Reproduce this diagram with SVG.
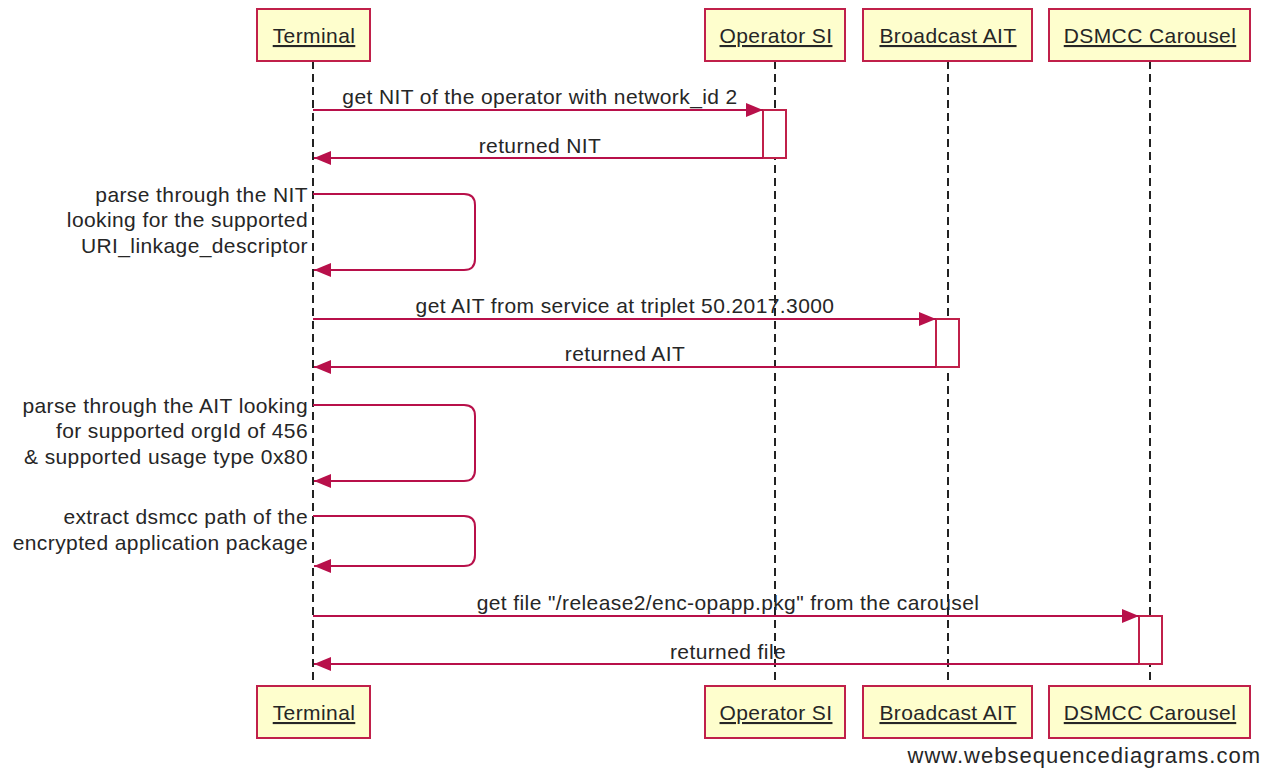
<svg xmlns="http://www.w3.org/2000/svg" width="1273" height="769" viewBox="0 0 1273 769">
<style>
  .box { fill: #fefecd; stroke: #c0204a; stroke-width: 2; }
  .act { fill: #ffffff; stroke: #c0204a; stroke-width: 2; }
  .life { stroke: #222222; stroke-width: 2; stroke-dasharray: 8 5; fill: none; }
  .msg { stroke: #b8104a; stroke-width: 2; fill: none; }
  .t { font-family: "Liberation Sans", Arial, sans-serif; font-size: 21px; letter-spacing: 0.4px; fill: #262626; }
  .c { text-anchor: middle; }
  .r { text-anchor: end; }
  .u { text-decoration: underline; }
  .wm { font-size: 22px; letter-spacing: 1px; }
</style>
<defs>
  <marker id="ah" markerUnits="userSpaceOnUse" markerWidth="18" markerHeight="14" refX="17" refY="7" orient="auto">
    <path d="M0,0 L17,7 L0,14 Z" fill="#b8104a"/>
  </marker>
</defs>
<rect width="1273" height="769" fill="#ffffff"/>
<g id="lifelines">
  <line class="life" x1="313" y1="61" x2="313" y2="686"/>
  <line class="life" x1="775" y1="61" x2="775" y2="686"/>
  <line class="life" x1="948" y1="61" x2="948" y2="686"/>
  <line class="life" x1="1150" y1="61" x2="1150" y2="686"/>
</g>
<g id="node-terminal">
  <rect class="box" x="257" y="9" width="113" height="52"/>
  <text class="t c u" x="314" y="43">Terminal</text>
  <rect class="box" x="257" y="686" width="113" height="52"/>
  <text class="t c u" x="314" y="720">Terminal</text>
</g>
<g id="node-operator">
  <rect class="box" x="705" y="9" width="140" height="52"/>
  <text class="t c u" x="776" y="43">Operator SI</text>
  <rect class="box" x="705" y="686" width="140" height="52"/>
  <text class="t c u" x="776" y="720">Operator SI</text>
</g>
<g id="node-broadcast">
  <rect class="box" x="863" y="9" width="169" height="52"/>
  <text class="t c u" x="948" y="43">Broadcast AIT</text>
  <rect class="box" x="863" y="686" width="169" height="52"/>
  <text class="t c u" x="948" y="720">Broadcast AIT</text>
</g>
<g id="node-dsmcc">
  <rect class="box" x="1049" y="9" width="201" height="52"/>
  <text class="t c u" x="1150" y="43">DSMCC Carousel</text>
  <rect class="box" x="1049" y="686" width="201" height="52"/>
  <text class="t c u" x="1150" y="720">DSMCC Carousel</text>
</g>
<g id="activations">
  <rect class="act" x="763" y="110" width="23" height="48"/>
  <rect class="act" x="936" y="319" width="23" height="48"/>
  <rect class="act" x="1139" y="616" width="23" height="48"/>
</g>
<g id="connectors">
  <line class="msg" x1="313" y1="110" x2="763" y2="110" marker-end="url(#ah)"/>
  <line class="msg" x1="763" y1="158" x2="314" y2="158" marker-end="url(#ah)"/>
  <path class="msg" d="M313,194 H464 Q475,194 475,205 V259 Q475,270 464,270 H314" marker-end="url(#ah)"/>
  <line class="msg" x1="313" y1="319" x2="936" y2="319" marker-end="url(#ah)"/>
  <line class="msg" x1="936" y1="367" x2="314" y2="367" marker-end="url(#ah)"/>
  <path class="msg" d="M313,405 H464 Q475,405 475,416 V470 Q475,481 464,481 H314" marker-end="url(#ah)"/>
  <path class="msg" d="M313,516 H464 Q475,516 475,527 V555 Q475,566 464,566 H314" marker-end="url(#ah)"/>
  <line class="msg" x1="313" y1="616" x2="1139" y2="616" marker-end="url(#ah)"/>
  <line class="msg" x1="1139" y1="664" x2="314" y2="664" marker-end="url(#ah)"/>
</g>
<g id="labels">
  <text class="t c" x="540" y="104">get NIT of the operator with network_id 2</text>
  <text class="t c" x="540" y="153">returned NIT</text>
  <text class="t r" x="308" y="202">parse through the NIT</text>
  <text class="t r" x="308" y="227">looking for the supported</text>
  <text class="t r" x="308" y="253">URI_linkage_descriptor</text>
  <text class="t c" x="625" y="313">get AIT from service at triplet 50.2017.3000</text>
  <text class="t c" x="625" y="361">returned AIT</text>
  <text class="t r" x="308" y="413">parse through the AIT looking</text>
  <text class="t r" x="308" y="438">for supported orgId of 456</text>
  <text class="t r" x="308" y="464">&amp; supported usage type 0x80</text>
  <text class="t r" x="308" y="524">extract dsmcc path of the</text>
  <text class="t r" x="308" y="550">encrypted application package</text>
  <text class="t c" x="728" y="610">get file "/release2/enc-opapp.pkg" from the carousel</text>
  <text class="t c" x="728" y="659">returned file</text>
  <text class="t r wm" x="1261" y="763">www.websequencediagrams.com</text>
</g>
</svg>
